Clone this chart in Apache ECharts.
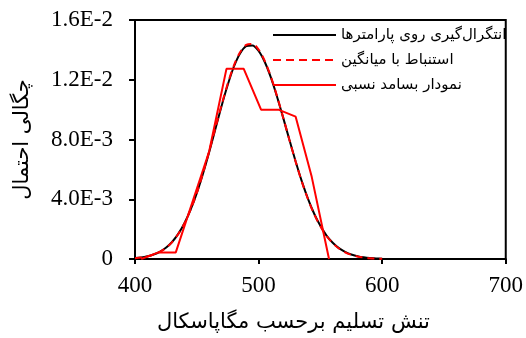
<!DOCTYPE html>
<html>
<head>
<meta charset="utf-8">
<style>
  html, body { margin: 0; padding: 0; background: #fff; }
  #chart { width: 526px; height: 338px; }
</style>
<script src="https://cdn.jsdelivr.net/npm/echarts@6/dist/echarts.min.js"></script>
</head>
<body>
<div id="chart"></div>
<script>
// Yield stress (MPa) sample points for the two fitted density curves
const stress = [400, 405, 410, 415, 420, 425, 430, 435, 440, 445, 450, 455, 460, 465, 470, 475,
                480, 485, 490, 495, 500, 505, 510, 515, 520, 525, 530, 535, 540, 545, 550, 555,
                560, 565, 570, 575, 580, 585, 590, 595, 600];

// Density from integrating over the parameters
const densityIntegrated = [0.00006, 0.00010, 0.00018, 0.00030, 0.00048, 0.00075, 0.00114, 0.00168,
                           0.00239, 0.00330, 0.00441, 0.00571, 0.00715, 0.00869, 0.01023, 0.01165,
                           0.01287, 0.01376, 0.01425, 0.01430, 0.01393, 0.01319, 0.01214, 0.01085,
                           0.00943, 0.00796, 0.00653, 0.00520, 0.00403, 0.00303, 0.00222, 0.00157,
                           0.00109, 0.00073, 0.00048, 0.00030, 0.00019, 0.00011, 0.00006, 0.00004, 0.00002];

// Density from the mean-parameter estimate
const densityMean = [0.00005, 0.00010, 0.00017, 0.00029, 0.00047, 0.00074, 0.00113, 0.00167,
                     0.00238, 0.00330, 0.00442, 0.00574, 0.00720, 0.00875, 0.01030, 0.01173,
                     0.01295, 0.01384, 0.01433, 0.01440, 0.01402, 0.01326, 0.01219, 0.01088,
                     0.00944, 0.00795, 0.00651, 0.00517, 0.00400, 0.00300, 0.00219, 0.00154,
                     0.00106, 0.00070, 0.00045, 0.00028, 0.00017, 0.00010, 0.00005, 0.00003, 0.00002];

// Relative-frequency polygon (class midpoints and densities)
const freqStress = [405, 419, 433, 460, 474, 488, 502, 516, 530, 543, 557];
const freqDensity = [0, 0.00044, 0.00044, 0.0072, 0.01273, 0.01273, 0.0100, 0.0100, 0.00953, 0.0055, 0];

const seriesNames = ['انتگرال\u200cگیری روی پارامترها', 'استنباط با میانگین', 'نمودار بسامد نسبی'];
const yTickLabels = ['0', '4.0E-3', '8.0E-3', '1.2E-2', '1.6E-2'];
const xTitle = 'تنش تسلیم برحسب مگاپاسکال';
const yTitle = 'چگالی احتمال';

const zip = (xs, ys) => xs.map((x, i) => [x, ys[i]]);

const serif = 'Liberation Serif';
const persian = 'DejaVu Sans';

// Legend keys: a plain stroke and a dashed stroke, drawn as filled paths
const solidKey = 'path://M0,0H63V2H0Z';
const dashedKey = 'path://M0,0H8V2H0Z M13,0H21V2H13Z M26,0H34V2H26Z M39,0H47V2H39Z M52,0H60V2H52Z M63,0H63V2H63Z';

const chart = echarts.init(document.getElementById('chart'), null, { renderer: 'canvas' });
chart.setOption({
  animation: false,
  backgroundColor: '#ffffff',
  grid: {
    left: 135, right: 19, top: 20, bottom: 78,
    show: true, borderColor: '#000', borderWidth: 2, backgroundColor: 'transparent'
  },
  legend: {
    left: 268, top: 21,
    orient: 'vertical',
    align: 'left',
    itemWidth: 63, itemHeight: 2, itemGap: 7, itemTextGap: 5,
    textStyle: { fontFamily: persian, fontSize: 15, color: '#000', lineHeight: 18 },
    data: [
      { name: seriesNames[0], icon: solidKey, itemStyle: { color: '#000' } },
      { name: seriesNames[1], icon: dashedKey, itemStyle: { color: '#ff0000' } },
      { name: seriesNames[2], icon: solidKey, itemStyle: { color: '#ff0000' } }
    ]
  },
  xAxis: {
    type: 'value', min: 400, max: 700, interval: 100,
    name: xTitle, nameLocation: 'middle', nameGap: 53,
    nameTextStyle: { fontFamily: persian, fontSize: 21, color: '#000', padding: [0, 54, 0, 0] },
    axisLine: { onZero: false, lineStyle: { color: '#000', width: 2 } },
    axisTick: { show: true, inside: false, length: 5, lineStyle: { color: '#000', width: 2 } },
    axisLabel: { fontFamily: serif, fontSize: 23, color: '#000', margin: 15 },
    splitLine: { show: false }
  },
  yAxis: {
    type: 'value', min: 0, max: 0.016, interval: 0.004,
    name: yTitle, nameLocation: 'middle', nameGap: 102, nameRotate: 90,
    nameTextStyle: { fontFamily: persian, fontSize: 21, color: '#000' },
    axisLine: { onZero: false, lineStyle: { color: '#000', width: 2 } },
    axisTick: { show: true, inside: false, length: 6, lineStyle: { color: '#000', width: 2 } },
    axisLabel: {
      fontFamily: serif, fontSize: 23, color: '#000', margin: 22,
      formatter: v => yTickLabels[Math.round(v / 0.004)]
    },
    splitLine: { show: false }
  },
  series: [
    {
      name: seriesNames[0], type: 'line', data: zip(stress, densityIntegrated),
      smooth: 0.3, symbol: 'none', z: 3,
      lineStyle: { color: '#000', width: 2 }, itemStyle: { color: '#000' }
    },
    {
      name: seriesNames[1], type: 'line', data: zip(stress, densityMean),
      smooth: 0.3, symbol: 'none', z: 4,
      lineStyle: { color: '#ff0000', width: 2, type: [7, 5] }, itemStyle: { color: '#ff0000' }
    },
    {
      name: seriesNames[2], type: 'line', data: zip(freqStress, freqDensity),
      symbol: 'none', z: 5,
      lineStyle: { color: '#ff0000', width: 2 }, itemStyle: { color: '#ff0000' }
    }
  ]
});
</script>
</body>
</html>
